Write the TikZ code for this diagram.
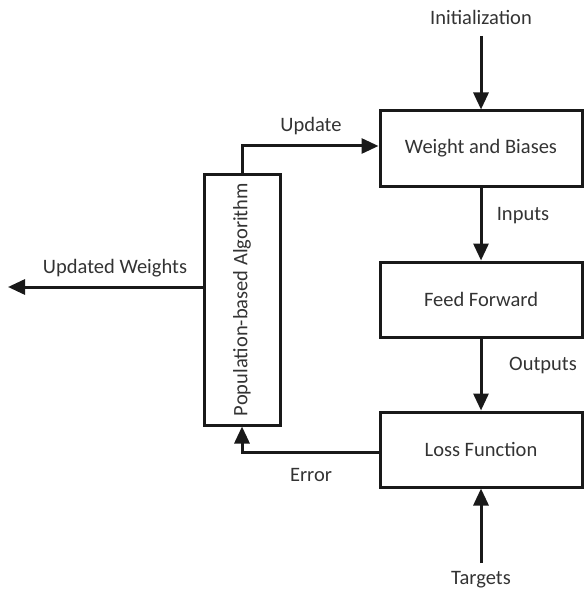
\documentclass[tikz,border=0pt]{standalone}
\usepackage{fontspec}
\setmainfont{Carlito}
\usetikzlibrary{arrows.meta}
\begin{document}
\begin{tikzpicture}[x=1pt,y=-1pt,
  box/.style={draw=black!90,line width=3pt,minimum width=202pt,minimum height=75pt,inner sep=0pt,font=\fontsize{20.5}{22}\selectfont,text=black!80},
  lbl/.style={font=\fontsize{20.5}{22}\selectfont,inner sep=0pt,text=black!80},
  conn/.style={draw=black!90,line width=3pt,-{Triangle[length=17pt,width=15pt]}}]
\useasboundingbox (0,0) rectangle (585,596);
\node[box] (wb) at (481,148.5) {Weight and Biases};
\node[box] (ff) at (481,299.5) {Feed Forward};
\node[box] (lf) at (481,449.5) {Loss Function};
\node[draw=black!90,line width=3pt,minimum width=76pt,minimum height=251pt,inner sep=0pt] (pa) at (242,299.5) {};
\node[lbl,rotate=90] at (pa.center) {Population-based Algorithm};
\coordinate (init) at (481,36);
\coordinate (targ) at (481,563);
\coordinate (uw) at (8,287);
\node[lbl] at (481,17) {Initialization};
\node[lbl] at (481,580) {Targets};
\node[lbl] at (523,216) {Inputs};
\node[lbl] at (543,365) {Outputs};
\node[lbl] at (311,475) {Error};
\node[lbl] at (311,126) {Update};
\node[lbl] at (115,268) {Updated Weights};
\draw[conn] (init) -- (wb.north);
\draw[conn] (wb.south) -- (ff.north);
\draw[conn] (ff.south) -- (lf.north);
\draw[conn] (targ) -- (lf.south);
\draw[conn] (pa.north) |- (wb.west |- 0,146);
\draw[conn] (lf.west |- 0,452) -| (pa.south);
\draw[conn] (pa.west |- uw) -- (uw);
\end{tikzpicture}
\end{document}
